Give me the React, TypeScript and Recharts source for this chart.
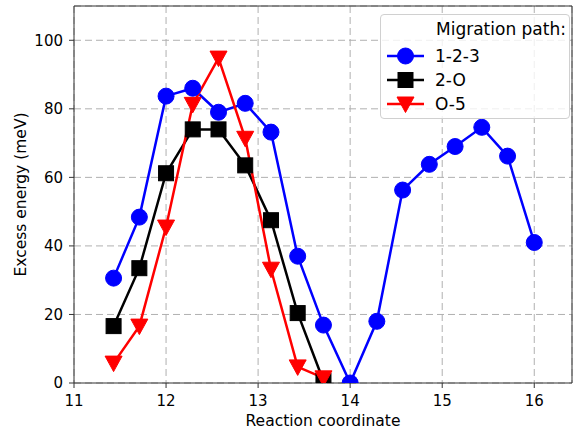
import React from "react";
import {
  LineChart,
  Line,
  XAxis,
  YAxis,
  CartesianGrid,
  Legend,
  ReferenceLine,
} from "recharts";

const reactionCoords = [
  11.43, 11.71, 12, 12.29, 12.57, 12.86, 13.14, 13.43, 13.71, 14, 14.29, 14.57, 14.86, 15.14, 15.43, 15.71, 16,
];
const path123 = [30.6, 48.4, 83.7, 86, 79, 81.6, 73.2, 37, 16.9, 0, 18, 56.3, 63.8, 69, 74.6, 66.2, 41];
const path2O = [16.6, 33.5, 61.2, 74, 74, 63.5, 47.5, 20.4, 0.6];
const pathO5 = [5.8, 16.6, 45.5, 81.3, 94.8, 71.4, 33.2, 4.7, 1.5];

const xTicks = [11, 12, 13, 14, 15, 16];
const yTicks = [0, 20, 40, 60, 80, 100];

const toPoints = (vals: number[]) => vals.map((v, i) => ({ x: reactionCoords[i], y: v }));

const FONT = "'DejaVu Sans', sans-serif";
const AXIS = "#333333";

const series = [
  { name: "1-2-3", color: "#0000ff", shape: "circle", data: toPoints(path123) },
  { name: "2-O", color: "#000000", shape: "square", data: toPoints(path2O) },
  { name: "O-5", color: "#ff0000", shape: "triangle", data: toPoints(pathO5) },
];

function Marker({ cx, cy, shape, color }: any) {
  if (cx == null || cy == null) return null;
  if (shape === "circle") return <circle cx={cx} cy={cy} r={8} fill={color} stroke={color} />;
  if (shape === "square")
    return <rect x={cx - 7.5} y={cy - 7.5} width={15} height={15} fill={color} stroke={color} />;
  return (
    <polygon
      points={`${cx - 8.5},${cy - 7} ${cx + 8.5},${cy - 7} ${cx},${cy + 8.5}`}
      fill={color}
      stroke={color}
    />
  );
}

function LegendBox() {
  return (
    <div
      style={{
        width: 190,
        height: 105,
        boxSizing: "border-box",
        border: "1px solid #d0d0d0",
        borderRadius: 4,
        background: "rgba(255,255,255,0.8)",
        fontFamily: FONT,
        fontSize: 17,
        color: "#000",
        position: "relative",
      }}
    >
      <div style={{ position: "absolute", left: 55, top: 4, lineHeight: "20px" }}>Migration path:</div>
      {series.map((s, i) => (
        <div
          key={s.name}
          style={{ position: "absolute", left: 5, top: 30 + i * 24, height: 22, display: "flex", alignItems: "center" }}
        >
          <svg width={40} height={22}>
            <line x1={1} y1={11} x2={38} y2={11} stroke={s.color} strokeWidth={2.5} />
            <Marker cx={19.5} cy={11} shape={s.shape} color={s.color} />
          </svg>
          <span style={{ marginLeft: 9 }}>{s.name}</span>
        </div>
      ))}
    </div>
  );
}

export default function App() {
  return (
    <div style={{ position: "absolute", left: 0, top: 0, width: 573, height: 432, background: "#fff" }}>
      <LineChart width={573} height={432} margin={{ top: 6, right: 1, left: 0, bottom: 0 }}>
        <CartesianGrid stroke="#b0b0b0" strokeDasharray="7 4" />
        <XAxis
          type="number"
          dataKey="x"
          domain={[11, 16.41]}
          ticks={xTicks}
          allowDataOverflow
          height={49}
          stroke={AXIS}
          tickSize={5}
          tickMargin={7}
          tick={{ fill: "#000", fontFamily: FONT, fontSize: 15 }}
          label={{ value: "Reaction coordinate", position: "insideBottom", offset: 6, fill: "#000", fontFamily: FONT, fontSize: 15.5 }}
        />
        <YAxis
          type="number"
          domain={[0, 110]}
          ticks={yTicks}
          allowDataOverflow
          width={74}
          stroke={AXIS}
          tickSize={5}
          tickMargin={6}
          tick={{ fill: "#000", fontFamily: FONT, fontSize: 15 }}
          label={{ value: "Excess energy (meV)", angle: -90, position: "center", dx: -17, fill: "#000", fontFamily: FONT, fontSize: 15.5 }}
        />
        <ReferenceLine y={110} stroke={AXIS} strokeWidth={1} ifOverflow="visible" />
        <ReferenceLine x={16.41} stroke={AXIS} strokeWidth={1} ifOverflow="visible" />
        {series.map((s) => (
          <Line
            key={s.name}
            data={s.data}
            dataKey="y"
            name={s.name}
            stroke={s.color}
            strokeWidth={2.5}
            isAnimationActive={false}
            dot={(p: any) => <Marker key={`${s.name}-${p.index}`} cx={p.cx} cy={p.cy} shape={s.shape} color={s.color} />}
            activeDot={false}
          />
        ))}
        <Legend
          layout="vertical"
          align="center"
          verticalAlign="middle"
          wrapperStyle={{ left: 380, top: 14, width: 190, height: 105 }}
          content={() => <LegendBox />}
        />
      </LineChart>
    </div>
  );
}
